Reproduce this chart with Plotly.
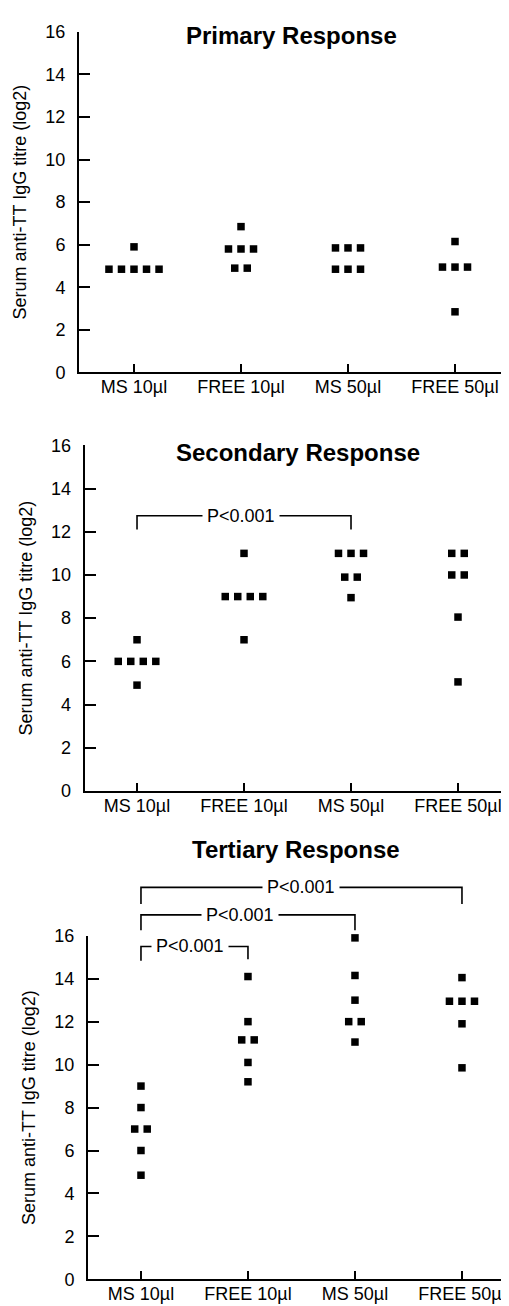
import plotly.graph_objects as go

# ---------------- data ----------------
categories = ["MS 10µl", "FREE 10µl", "MS 50µl", "FREE 50µl"]
panel_titles = ["Primary Response", "Secondary Response", "Tertiary Response"]
y_tick_values = [0, 2, 4, 6, 8, 10, 12, 14, 16]
y_title = "Serum anti-TT IgG titre (log2)"

primary_ms10 = [5.9, 4.85, 4.85, 4.85, 4.85, 4.85]
primary_free10 = [6.85, 5.8, 5.8, 5.8, 4.9, 4.9]
primary_ms50 = [5.85, 5.85, 5.85, 4.85, 4.85, 4.85]
primary_free50 = [6.15, 4.95, 4.95, 4.95, 2.85]

secondary_ms10 = [7.0, 6.0, 6.0, 6.0, 6.0, 4.9]
secondary_free10 = [11.0, 9.0, 9.0, 9.0, 9.0, 7.0]
secondary_ms50 = [11.0, 11.0, 11.0, 9.9, 9.9, 8.95]
secondary_free50 = [11.0, 11.0, 10.0, 10.0, 8.05, 5.05]

tertiary_ms10 = [9.0, 8.0, 7.0, 7.0, 6.0, 4.85]
tertiary_free10 = [14.1, 12.0, 11.15, 11.15, 10.1, 9.2]
tertiary_ms50 = [15.9, 14.15, 13.0, 12.0, 12.0, 11.05]
tertiary_free50 = [14.05, 12.95, 12.95, 12.95, 11.9, 9.85]

panel_data = [
    [primary_ms10, primary_free10, primary_ms50, primary_free50],
    [secondary_ms10, secondary_free10, secondary_ms50, secondary_free50],
    [tertiary_ms10, tertiary_free10, tertiary_ms50, tertiary_free50],
]

p_label = "P<0.001"
# (panel, left category, right category, bar level, left drop, right drop, label x)
brackets = [
    (1, 0, 2, 12.74, 12.1, 12.1, 0.97),
    (2, 0, 3, 18.25, 17.48, 17.48, 1.5),
    (2, 0, 2, 16.97, 16.25, 16.25, 0.93),
    (2, 0, 1, 15.5, 14.84, 14.9, 0.46),
]

# ---------------- layout constants ----------------
W, H = 509, 1306
FONT = "Liberation Sans, Arial, Helvetica, sans-serif"
panels = [
    dict(px=(71, 502), py=(14, 360), xr=(-0.514, 3.514), title_x=1.47, title_v=15.83),
    dict(px=(76.7, 502), py=(434, 785), xr=(-0.489, 3.486), title_x=1.50, title_v=15.65),
    dict(px=(80, 508), py=(932, 1281), xr=(-0.495, 3.505), title_x=1.45, title_v=20.0),
]
SPREAD = 0.117
YMAX = 16


def ydom(p):
    return [1 - p["py"][1] / H, 1 - p["py"][0] / H]


def ypaper(pi, v):
    d0, d1 = ydom(panels[pi])
    return d0 + v / YMAX * (d1 - d0)


fig = go.Figure()

for pi, groups in enumerate(panel_data):
    sfx = "" if pi == 0 else str(pi + 1)
    xs, ys = [], []
    for ci, vals in enumerate(groups):
        counts = {}
        for v in vals:
            counts[v] = counts.get(v, 0) + 1
        seen = {}
        for v in vals:
            n = counts[v]
            k = seen.get(v, 0)
            seen[v] = k + 1
            xs.append(ci + (k - (n - 1) / 2) * SPREAD)
            ys.append(v)
    fig.add_trace(go.Scatter(
        x=xs, y=ys, mode="markers",
        marker=dict(symbol="square", size=7.5, color="black", line=dict(width=0)),
        xaxis="x" + sfx, yaxis="y" + sfx, showlegend=False, cliponaxis=False,
        hoverinfo="skip",
    ))

layout = dict(
    width=W, height=H, margin=dict(l=0, r=0, t=0, b=0),
    paper_bgcolor="white", plot_bgcolor="white", showlegend=False,
    font=dict(family=FONT, color="black", size=18),
)

annotations = []
shapes = []
for pi, p in enumerate(panels):
    sfx = "" if pi == 0 else str(pi + 1)
    layout["xaxis" + sfx] = dict(
        domain=[p["px"][0] / W, p["px"][1] / W], range=list(p["xr"]),
        anchor="y" + sfx, tickmode="array", tickvals=[0, 1, 2, 3], ticktext=categories,
        showline=True, linecolor="black", linewidth=2, ticks="inside", ticklen=8,
        tickwidth=1.5, tickcolor="black", showgrid=False, zeroline=False,
        tickfont=dict(size=18, family=FONT), ticklabelstandoff=-3, fixedrange=True,
    )
    layout["yaxis" + sfx] = dict(
        domain=ydom(p), range=[0, YMAX], anchor="x" + sfx,
        tickmode="array", tickvals=y_tick_values,
        showline=True, linecolor="black", linewidth=2, ticks="inside", ticklen=11,
        tickwidth=1.5, tickcolor="black", showgrid=False, zeroline=False,
        tickfont=dict(size=18, family=FONT), ticklabelstandoff=8,
        title=dict(text=y_title, font=dict(size=18, family=FONT), standoff=14),
        fixedrange=True,
    )
    annotations.append(dict(
        text="<b>" + panel_titles[pi] + "</b>", xref="x" + sfx, yref="paper",
        x=p["title_x"], y=ypaper(pi, p["title_v"]), showarrow=False,
        font=dict(size=24, family=FONT, color="black"), xanchor="center", yanchor="middle",
    ))

for (pi, c0, c1, lvl, dl, dr, tx) in brackets:
    sfx = "" if pi == 0 else str(pi + 1)
    path = "M {a},{b} L {a},{c} L {d},{c} L {d},{e}".format(
        a=c0, b=ypaper(pi, dl), c=ypaper(pi, lvl), d=c1, e=ypaper(pi, dr))
    shapes.append(dict(type="path", path=path, xref="x" + sfx, yref="paper",
                       line=dict(color="black", width=1.6)))
    annotations.append(dict(
        text=p_label, xref="x" + sfx, yref="paper", x=tx, y=ypaper(pi, lvl),
        showarrow=False, font=dict(size=18, family=FONT, color="black"),
        bgcolor="white", borderpad=4, xanchor="center", yanchor="middle",
    ))

layout["annotations"] = annotations
layout["shapes"] = shapes
fig.update_layout(**layout)
fig.write_html("out.html")
